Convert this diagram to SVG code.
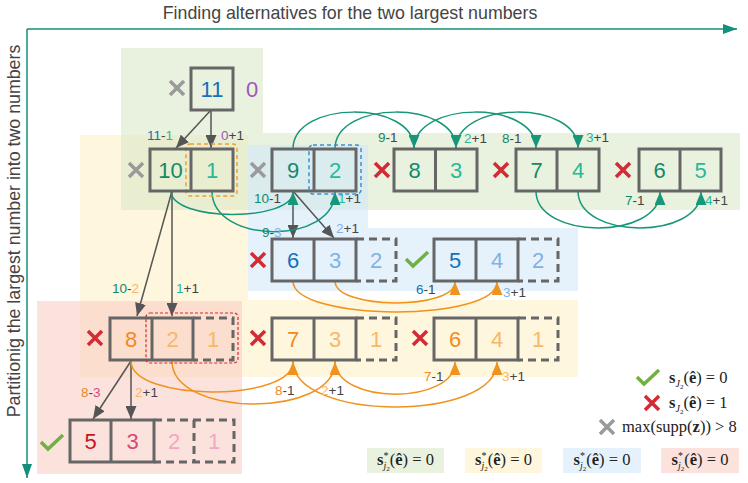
<svg xmlns="http://www.w3.org/2000/svg" xmlns:xlink="http://www.w3.org/1999/xlink" width="748" height="483" viewBox="0 0 748 483">
<style>
.box{fill:none;stroke:#666;stroke-width:3}
.dash{fill:none;stroke:#666;stroke-width:3;stroke-dasharray:8 5}
.num{font-family:"Liberation Sans",Arial,sans-serif;font-size:22px;text-anchor:middle}
.lbl{font-family:"Liberation Sans",Arial,sans-serif;font-size:13.5px;fill:#444}
.ttl{font-family:"Liberation Sans",Arial,sans-serif;font-size:17.8px;fill:#444}
.xg{stroke:#9a9a9a;stroke-width:3.5;fill:none}
.xr{stroke:#d42a34;stroke-width:3.5;fill:none}
.ck{stroke:#72b043;stroke-width:3.5;fill:none}
.gar{stroke:#555;stroke-width:1.5;fill:none;marker-end:url(#mg)}
.tc{stroke:#17967a;stroke-width:1.5;fill:none;marker-end:url(#mt)}
.oc{stroke:#f0921e;stroke-width:1.5;fill:none;marker-end:url(#mo)}
.m{font-family:"Liberation Serif","Times New Roman",serif;font-size:16.5px;fill:#222}
.td{fill:#13896b}.tl{fill:#26b99a}.bd{fill:#1570b8}.bl{fill:#7fb3e3}
.od{fill:#f08a24}.ol{fill:#f7b86a}.pu{fill:#9b59b6}
</style>
<defs>
<marker id="mg" viewBox="0 0 13 11" refX="13" refY="5.5" markerWidth="13" markerHeight="11" markerUnits="userSpaceOnUse" orient="auto"><path d="M0,0L13,5.5L0,11z" fill="#555"/></marker>
<marker id="mt" viewBox="0 0 13 11" refX="13" refY="5.5" markerWidth="13" markerHeight="11" markerUnits="userSpaceOnUse" orient="auto"><path d="M0,0L13,5.5L0,11z" fill="#17967a"/></marker>
<marker id="mo" viewBox="0 0 13 11" refX="13" refY="5.5" markerWidth="13" markerHeight="11" markerUnits="userSpaceOnUse" orient="auto"><path d="M0,0L13,5.5L0,11z" fill="#f0921e"/></marker>
<marker id="ma" viewBox="0 0 14 10" refX="14" refY="5" markerWidth="14" markerHeight="10" markerUnits="userSpaceOnUse" orient="auto"><path d="M0,0L14,5L0,10z" fill="#12907a"/></marker>
<path id="xm" d="M-7,-7L7,7M7,-7L-7,7"/>
<path id="ckm" d="M-11,-1L-4,6L11,-8"/>
</defs>

<g id="backgrounds">
<path d="M80,135H248V300H578V377H80Z" fill="#fdefc1" fill-opacity="0.55"/>
<path d="M121,48H263V133H740V210H121Z" fill="#d7e7c5" fill-opacity="0.55"/>
<path d="M248,145H368V228H578V291H248Z" fill="#d0e7fa" fill-opacity="0.55"/>
<rect x="37" y="301" width="205" height="173" fill="#f8cabf" fill-opacity="0.55"/>
</g>

<g id="axes">
<text class="ttl" x="350" y="19" text-anchor="middle">Finding alternatives for the two largest numbers</text>
<text class="ttl" transform="translate(20,231) rotate(-90)" text-anchor="middle" font-size="16.8">Partitionig the largest number into two numbers</text>
<path d="M27,29H737" stroke="#12907a" stroke-width="1.5" fill="none" marker-end="url(#ma)"/>
<path d="M27,29V478" stroke="#12907a" stroke-width="1.5" fill="none" marker-end="url(#ma)"/>
</g>

<g id="connectors">
<path class="gar" d="M211,110L176,148"/>
<path class="gar" d="M211,110V148"/>
<path class="gar" d="M172,191L137,316"/>
<path class="gar" d="M172,191V316"/>
<path class="gar" d="M293,191V238"/>
<path class="gar" d="M293,191L334,238"/>
<path class="gar" d="M131,361L93,419"/>
<path class="gar" d="M131,361V419"/>
<path class="tc" d="M293,149C293,100 414,100 414,148"/>
<path class="tc" d="M335,149C335,100 456,100 456,148"/>
<path class="tc" d="M414,149C414,100 536,100 536,148"/>
<path class="tc" d="M456,149C456,100 578,100 578,148"/>
<path class="tc" d="M536,191C536,240 660,240 660,192"/>
<path class="tc" d="M578,191C578,240 701,240 701,192"/>
<path class="tc" d="M171,191C171,222 293,222 293,192"/>
<path class="tc" d="M212,191C212,245 335,245 335,192"/>
<path class="oc" d="M293,281C293,322 497,322 497,282"/>
<path class="oc" d="M335,281C335,310 455,310 455,282"/>
<path class="oc" d="M131,361C131,402 293,402 293,362"/>
<path class="oc" d="M172,361C172,418 335,418 335,362"/>
<path class="oc" d="M293,361C293,422 497,422 497,362"/>
<path class="oc" d="M335,361C335,405 455,405 455,362"/>
</g>

<g id="labels">
<text class="lbl" x="147" y="140"><tspan class="bd">11</tspan>-<tspan class="tl">1</tspan></text>
<text class="lbl" x="221" y="140"><tspan class="pu">0</tspan>+1</text>
<text class="lbl" x="254" y="203"><tspan class="td">10</tspan>-1</text>
<text class="lbl" x="338" y="203"><tspan class="tl">1</tspan>+1</text>
<text class="lbl" x="378" y="142"><tspan class="td">9</tspan>-1</text>
<text class="lbl" x="464" y="143"><tspan class="tl">2</tspan>+1</text>
<text class="lbl" x="502" y="143"><tspan class="td">8</tspan>-1</text>
<text class="lbl" x="586" y="142"><tspan class="tl">3</tspan>+1</text>
<text class="lbl" x="625" y="205"><tspan class="td">7</tspan>-1</text>
<text class="lbl" x="705" y="205"><tspan class="tl">4</tspan>+1</text>
<text class="lbl" x="262" y="237"><tspan class="td">9</tspan>-<tspan class="bl">3</tspan></text>
<text class="lbl" x="336" y="233"><tspan class="bl">2</tspan>+1</text>
<text class="lbl" x="416" y="294"><tspan class="bd">6</tspan>-1</text>
<text class="lbl" x="503" y="297"><tspan class="bl">3</tspan>+1</text>
<text class="lbl" x="112" y="293"><tspan class="td">10</tspan>-<tspan class="ol">2</tspan></text>
<text class="lbl" x="176" y="293"><tspan class="tl">1</tspan>+1</text>
<text class="lbl" x="81" y="397"><tspan class="od">8</tspan>-<tspan fill="#d9477c">3</tspan></text>
<text class="lbl" x="135" y="397"><tspan class="ol">2</tspan>+1</text>
<text class="lbl" x="275" y="395"><tspan class="od">8</tspan>-1</text>
<text class="lbl" x="321" y="395"><tspan class="ol">2</tspan>+1</text>
<text class="lbl" x="424" y="381"><tspan class="od">7</tspan>-1</text>
<text class="lbl" x="502" y="381"><tspan class="ol">3</tspan>+1</text>
</g>

<g id="n11">
<use href="#xm" x="177" y="88" class="xg"/>
<rect class="box" x="191" y="68" width="42" height="42"/>
<text class="num bd" x="212" y="97">11</text>
<text class="num pu" x="252" y="97">0</text>
</g>

<g id="n10-1">
<use href="#xm" x="136" y="170" class="xg"/>
<rect x="186" y="144" width="51" height="52" rx="4" fill="none" stroke="#f0a030" stroke-width="1.5" stroke-dasharray="4 3"/>
<rect class="box" x="150" y="149" width="83" height="42"/>
<path class="box" d="M191,149V191"/>
<text class="num td" x="170.5" y="178">10</text>
<text class="num tl" x="212" y="178">1</text>
</g>

<g id="n9-2">
<use href="#xm" x="258" y="170" class="xg"/>
<rect class="box" x="272" y="149" width="84" height="42"/>
<path class="box" d="M314,149V191"/>
<rect x="309" y="145" width="52" height="49" rx="4" fill="none" stroke="#3a8fd6" stroke-width="1.5" stroke-dasharray="4 3"/>
<text class="num td" x="293" y="178">9</text>
<text class="num tl" x="335" y="178">2</text>
</g>

<g id="n8-3">
<use href="#xm" x="382" y="170" class="xr"/>
<rect class="box" x="394" y="149" width="83" height="42"/>
<path class="box" d="M435.5,149V191"/>
<text class="num td" x="414.7" y="178">8</text>
<text class="num tl" x="456" y="178">3</text>
</g>

<g id="n7-4">
<use href="#xm" x="501" y="170" class="xr"/>
<rect class="box" x="516" y="149" width="83" height="42"/>
<path class="box" d="M557,149V191"/>
<text class="num td" x="536.5" y="178">7</text>
<text class="num tl" x="578" y="178">4</text>
</g>

<g id="n6-5">
<use href="#xm" x="623" y="170" class="xr"/>
<rect class="box" x="639" y="149" width="82" height="42"/>
<path class="box" d="M680,149V191"/>
<text class="num td" x="659.5" y="178">6</text>
<text class="num tl" x="700.5" y="178">5</text>
</g>

<g id="n6-3-2">
<use href="#xm" x="258" y="260" class="xr"/>
<rect class="box" x="272" y="239" width="84" height="42"/>
<path class="box" d="M314,239V281"/>
<path class="dash" d="M356,239H396V281H356"/>
<text class="num bd" x="293" y="268">6</text>
<text class="num bl" x="335" y="268">3</text>
<text class="num bl" x="376" y="268">2</text>
</g>

<g id="n5-4-2">
<use href="#ckm" x="417" y="260" class="ck"/>
<rect class="box" x="434" y="239" width="84" height="42"/>
<path class="box" d="M476,239V281"/>
<path class="dash" d="M518,239H558V281H518"/>
<text class="num bd" x="455" y="268">5</text>
<text class="num bl" x="497" y="268">4</text>
<text class="num bl" x="538" y="268">2</text>
</g>

<g id="n8-2-1">
<use href="#xm" x="95" y="338" class="xr"/>
<rect class="box" x="110" y="318" width="83" height="42"/>
<path class="box" d="M152,318V360"/>
<path class="dash" d="M193,318H233V360H193"/>
<rect x="146" y="313" width="92" height="50" rx="4" fill="none" stroke="#d42a34" stroke-width="1.2" stroke-dasharray="3 2"/>
<text class="num od" x="131" y="347">8</text>
<text class="num ol" x="172.5" y="347">2</text>
<text class="num ol" x="213" y="347">1</text>
</g>

<g id="n7-3-1">
<use href="#xm" x="258" y="338" class="xr"/>
<rect class="box" x="272" y="318" width="84" height="42"/>
<path class="box" d="M314,318V360"/>
<path class="dash" d="M356,318H396V360H356"/>
<text class="num od" x="293" y="347">7</text>
<text class="num ol" x="335" y="347">3</text>
<text class="num ol" x="376" y="347">1</text>
</g>

<g id="n6-4-1">
<use href="#xm" x="420" y="338" class="xr"/>
<rect class="box" x="434" y="318" width="84" height="42"/>
<path class="box" d="M476,318V360"/>
<path class="dash" d="M518,318H558V360H518"/>
<text class="num od" x="455" y="347">6</text>
<text class="num ol" x="497" y="347">4</text>
<text class="num ol" x="538" y="347">1</text>
</g>

<g id="n5-3-2-1">
<use href="#ckm" x="52" y="443" class="ck"/>
<rect class="box" x="70" y="420" width="84" height="42"/>
<path class="box" d="M111,420V462"/>
<path class="dash" d="M154,420H234V462H154"/>
<path class="dash" d="M194,420V462"/>
<text class="num" fill="#c4161c" x="90.5" y="449">5</text>
<text class="num" fill="#d9477c" x="132.5" y="449">3</text>
<text class="num" fill="#f4a7c2" x="174" y="449">2</text>
<text class="num" fill="#f4a7c2" x="214" y="449">1</text>
</g>

<g id="legend">
<use href="#ckm" x="648" y="378" class="ck"/>
<text class="m" x="669" y="383"><tspan font-weight="bold">s</tspan><tspan font-style="italic" font-size="10" dy="4">J</tspan><tspan font-size="7" dy="2">2</tspan><tspan dy="-6">(</tspan><tspan font-weight="bold">ê</tspan>) = 0</text>
<use href="#xm" x="652" y="403" class="xr"/>
<text class="m" x="669" y="408"><tspan font-weight="bold">s</tspan><tspan font-style="italic" font-size="10" dy="4">J</tspan><tspan font-size="7" dy="2">2</tspan><tspan dy="-6">(</tspan><tspan font-weight="bold">ê</tspan>) = 1</text>
<use href="#xm" x="607" y="427" class="xg"/>
<text class="m" x="622" y="432">max(supp(<tspan font-weight="bold">z</tspan>)) &gt; 8</text>
<rect x="367" y="448" width="77" height="25" fill="#d7e7c5" fill-opacity="0.55"/>
<rect x="465" y="448" width="77" height="25" fill="#fdefc1" fill-opacity="0.55"/>
<rect x="563" y="448" width="78" height="25" fill="#d0e7fa" fill-opacity="0.55"/>
<rect x="661" y="448" width="78" height="25" fill="#f8cabf" fill-opacity="0.55"/>
<text class="m" x="405.5" y="465" text-anchor="middle"><tspan font-weight="bold">s</tspan><tspan font-size="10" dy="-6">*</tspan><tspan font-style="italic" font-size="10" dx="-5" dy="10">j</tspan><tspan font-size="7" dy="2">2</tspan><tspan dy="-6">(</tspan><tspan font-weight="bold">ê</tspan>) = 0</text>
<text class="m" x="503.5" y="465" text-anchor="middle"><tspan font-weight="bold">s</tspan><tspan font-size="10" dy="-6">*</tspan><tspan font-style="italic" font-size="10" dx="-5" dy="10">j</tspan><tspan font-size="7" dy="2">2</tspan><tspan dy="-6">(</tspan><tspan font-weight="bold">ê</tspan>) = 0</text>
<text class="m" x="602" y="465" text-anchor="middle"><tspan font-weight="bold">s</tspan><tspan font-size="10" dy="-6">*</tspan><tspan font-style="italic" font-size="10" dx="-5" dy="10">j</tspan><tspan font-size="7" dy="2">2</tspan><tspan dy="-6">(</tspan><tspan font-weight="bold">ê</tspan>) = 0</text>
<text class="m" x="700" y="465" text-anchor="middle"><tspan font-weight="bold">s</tspan><tspan font-size="10" dy="-6">*</tspan><tspan font-style="italic" font-size="10" dx="-5" dy="10">j</tspan><tspan font-size="7" dy="2">2</tspan><tspan dy="-6">(</tspan><tspan font-weight="bold">ê</tspan>) = 0</text>
</g>
</svg>
